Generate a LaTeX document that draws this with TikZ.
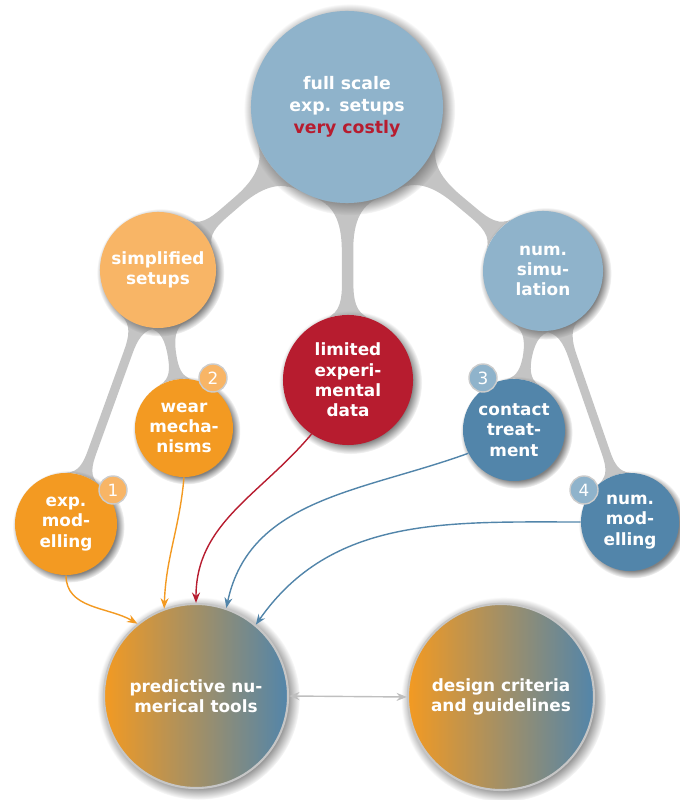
\documentclass[tikz,border=0pt]{standalone}
\usepackage{fontspec}
\setmainfont{DejaVu Sans}
\usetikzlibrary{arrows.meta,mindmap,shadows,backgrounds}
\definecolor{paleblue}{HTML}{8FB3CB}
\definecolor{deepblue}{HTML}{5285AA}
\definecolor{softorange}{HTML}{F8B566}
\definecolor{richorange}{HTML}{F39A22}
\definecolor{costred}{HTML}{B71C2F}
\definecolor{bargray}{HTML}{C4C4C4}
\begin{document}
\begin{tikzpicture}[
  x=0.025cm,y=0.025cm,
  bubble/.style={circle,circular drop shadow,text=white,align=center,inner sep=0pt,
    font=\fontsize{12}{14.5}\selectfont\bfseries},
  goal/.style={bubble,left color=richorange,right color=deepblue,draw=gray!45,line width=1.5pt},
  badge/.style={circle,minimum size=0.7cm,inner sep=0pt,draw=gray!40,line width=1pt,
    text=white,font=\fontsize{12}{14}\selectfont},
  link/.style={circle connection bar switch color=from (bargray) to (bargray)},
  feed/.style={line width=1pt,-{Stealth[length=2.6mm,width=2mm]}}
]
  \useasboundingbox (0,0) rectangle (679,800);
  \node[bubble,fill=paleblue,minimum size=4.8cm,font=\fontsize{12.3}{15.5}\selectfont\bfseries]
    (root) at (347,693)
    {full scale\\exp. setups\\\textcolor{costred}{very costly}};
  \node[bubble,fill=softorange,minimum size=2.9cm] (simplified) at (158,530)
    {simplified\\setups};
  \node[bubble,fill=paleblue,minimum size=3.0cm] (numsim) at (543,529)
    {num.\\simu-\\lation};
  \node[bubble,fill=costred,minimum size=3.25cm] (limited) at (348,420)
    {limited\\experi-\\mental\\data};
  \node[bubble,fill=richorange,minimum size=2.45cm] (wear) at (184,372)
    {wear\\mecha-\\nisms};
  \node[bubble,fill=richorange,minimum size=2.55cm] (expmod) at (66,276)
    {exp.\\mod-\\elling};
  \node[bubble,fill=deepblue,minimum size=2.55cm] (contact) at (514,370)
    {contact\\treat-\\ment};
  \node[bubble,fill=deepblue,minimum size=2.45cm] (nummod) at (630,278)
    {num.\\mod-\\elling};
  \node[goal,minimum size=4.6cm] (tools) at (196,104)
    {predictive nu-\\merical tools};
  \node[goal,minimum size=4.65cm] (design) at (501,103)
    {design criteria\\and guidelines};

  \foreach \name/\x/\y/\tint/\num in
    {one/113/310/softorange/1,two/213/422/softorange/2,
     three/483/422/paleblue/3,four/584/310/paleblue/4}
  {
    \node[badge,fill=\tint] (badge\name) at (\x,\y) {\num};
  }

  \begin{scope}[on background layer,mindmap]
    \path (root) to[link] (simplified);
    \path (root) to[link] (limited);
    \path (root) to[link] (numsim);
    \path (simplified) to[link] (expmod);
    \path (simplified) to[link] (wear);
    \path (numsim) to[link] (contact);
    \path (numsim) to[link] (nummod);
  \end{scope}

  \draw[feed,richorange] (expmod.south) to[out=-90,in=150] (tools.129);
  \draw[feed,richorange] (wear.south) to[out=-95,in=88] (tools.110);
  \draw[feed,costred] (limited.236) to[out=230,in=90] (tools.90);
  \draw[feed,deepblue] (contact.207) to[out=200,in=78] (tools.71);
  \draw[feed,deepblue] (nummod.west) to[out=180,in=55] (tools.50);
  \draw[line width=1pt,gray!50,{Stealth[length=2.6mm,width=2mm]}-{Stealth[length=2.6mm,width=2mm]}]
    (tools.east) -- (design.west);
\end{tikzpicture}
\end{document}
